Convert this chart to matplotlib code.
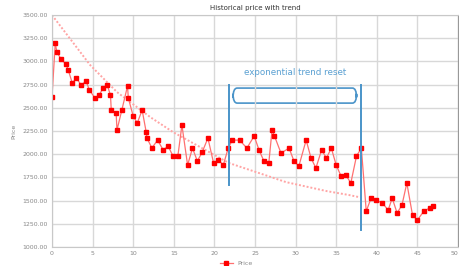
import numpy as np
import matplotlib.pyplot as plt
from matplotlib.patches import FancyBboxPatch

# price series
day = [0, 0.4, 0.6, 1.1, 1.7, 2.0, 2.5, 3.0, 3.6, 4.2, 4.6, 5.3, 5.8, 6.3, 6.8,
       7.2, 7.3, 7.9, 8.0, 8.6, 9.3, 9.4, 10.0, 10.5, 11.1, 11.6, 11.7, 12.3,
       13.0, 13.7, 14.3, 14.9, 15.5, 16.0, 16.7, 17.3, 17.9, 18.5, 19.2, 19.9,
       20.5, 21.1, 21.7, 22.2, 23.1, 24.0, 24.9, 25.5, 26.1, 26.7, 27.1, 27.4,
       28.2, 29.2, 29.8, 30.4, 31.3, 31.9, 32.5, 33.2, 33.8, 34.4, 35.0, 35.6,
       36.2, 36.8, 37.5, 38.1, 38.7, 39.3, 39.9, 40.7, 41.4, 41.9, 42.5, 43.1,
       43.7, 44.4, 45.0, 45.8, 46.5, 46.9]
price = [2616, 3198, 3101, 3026, 2972, 2907, 2767, 2821, 2745, 2789, 2692, 2605,
         2638, 2713, 2745, 2638, 2476, 2444, 2260, 2476, 2735, 2605, 2411, 2336,
         2476, 2239, 2174, 2066, 2152, 2045, 2088, 1980, 1980, 2314, 1883, 2066,
         1926, 2023, 2174, 1905, 1937, 1883, 2066, 2152, 2152, 2066, 2196, 2045,
         1926, 1905, 2260, 2196, 2012, 2066, 1926, 1872, 2152, 1959, 1851, 2045,
         1959, 2066, 1883, 1764, 1775, 1689, 1980, 2066, 1387, 1527, 1506, 1473,
         1398, 1527, 1366, 1452, 1689, 1344, 1290, 1387, 1420, 1441]

# exponential trend curve
trend_day = [0, 4.7, 8.0, 12.1, 14.9, 21.8, 25.5, 28.8, 33.8, 36.6, 37.8]
trend_val = [3500, 2961, 2670, 2400, 2239, 1905, 1797, 1700, 1603, 1560, 1538]

xticks = np.arange(0, 51, 5)
yticks = np.arange(1000, 3501, 250)

blue = '#4a94c9'

fig = plt.figure(figsize=(4.59, 2.66), dpi=100)
ax = fig.add_axes([0.1133, 0.0714, 0.8845, 0.872])

ax.plot(trend_day, trend_val, color='#ffa5a5', lw=1.4, ls=(0, (1, 1)))
ax.plot(day, price, color='#ff7070', lw=0.9, marker='s', markersize=2.4,
        markerfacecolor='red', markeredgecolor='red', label='Price')

# annotation of the reset period
ax.plot([21.8, 21.8], [1667, 2746], color=blue, lw=1.4)
ax.plot([38.0, 38.0], [1183, 2746], color=blue, lw=1.4)
box = FancyBboxPatch((22.3, 2551), 15.2, 162, boxstyle='round,pad=0,rounding_size=0.5',
                     fill=False, edgecolor=blue, lw=1.2, mutation_aspect=200)
ax.add_patch(box)
ax.text(30.0, 2886, 'exponential trend reset', color='#5aa0d2', fontsize=6.3,
        ha='center', va='center')

ax.set_xlim(0, 50)
ax.set_ylim(1000, 3500)
ax.set_xticks(xticks)
ax.set_yticks(yticks)
ax.set_yticklabels(['%.2f' % v for v in yticks])
ax.tick_params(labelsize=4.5, colors='#888888', length=0, pad=3)
ax.get_xticklabels()[-1].set_ha('right')
ax.grid(True, color='#d8d8d8', lw=1)
for s in ax.spines.values():
    s.set_color('#c8c8c8')
ax.spines['right'].set_color('#999999')

ax.set_ylabel('Price', fontsize=4.5, color='#888888', labelpad=4)
ax.set_title('Historical price with trend', fontsize=5, color='#333333', pad=4)

fig.legend(loc='lower center', bbox_to_anchor=(0.515, -0.02), fontsize=4.5,
           frameon=False, labelcolor='#888888', handlelength=2)

plt.savefig('out.png', dpi=100)
